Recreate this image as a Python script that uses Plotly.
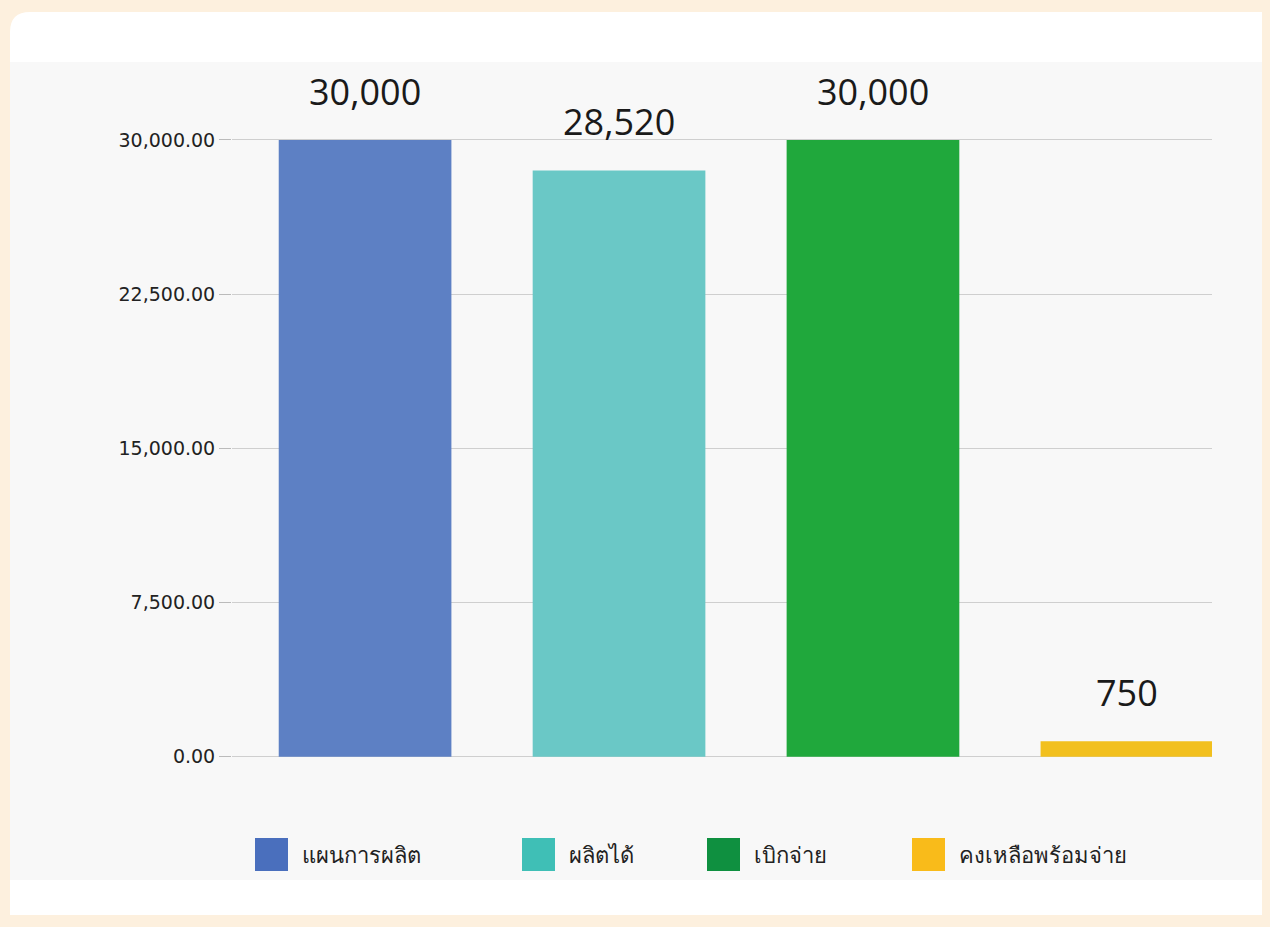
import plotly.graph_objects as go

categories = ["แผนการผลิต", "ผลิตได้", "เบิกจ่าย", "คงเหลือพร้อมจ่าย"]
values = [30000, 28520, 30000, 750]
value_labels = ["30,000", "28,520", "30,000", "750"]
bar_colors = ["#5d80c4", "#6ac8c6", "#20a83c", "#f2c01e"]
legend_colors = ["#4a6fbd", "#3fbfb6", "#0f9040", "#f9bb1a"]
tick_vals = [0, 7500, 15000, 22500, 30000]
tick_text = ["0.00", "7,500.00", "15,000.00", "22,500.00", "30,000.00"]

W, H = 1270, 927
fig = go.Figure()
for cat, val, col in zip(categories, values, bar_colors):
    fig.add_trace(go.Bar(
        x=[cat], y=[val], name=cat, marker=dict(color=col, line=dict(width=0)),
        width=0.68, showlegend=False,
    ))

annotations = []
for cat, val, lab in zip(categories, values, value_labels):
    annotations.append(dict(x=cat, y=val, xref="x", yref="y", text=lab, showarrow=False,
                            yanchor="bottom", yshift=22,
                            font=dict(size=36, color="#1a1a1a", family="Open Sans, sans-serif")))

shapes = [
    dict(type="path", xref="paper", yref="paper", layer="below",
         path=f"M {30/W},{1-12/H} L {1262/W},{1-12/H} L {1262/W},{1-915/H} L {10/W},{1-915/H} L {10/W},{1-32/H} Q {10/W},{1-12/H} {30/W},{1-12/H} Z",
         fillcolor="white", line=dict(width=0)),
    dict(type="rect", xref="paper", yref="paper", layer="below",
         x0=10 / W, x1=1262 / W, y0=1 - 880 / H, y1=1 - 62 / H,
         fillcolor="#f8f8f8", line=dict(width=0)),
]

# manual legend
legend_x = [255, 522, 707, 912]
for lx, cat, col in zip(legend_x, categories, legend_colors):
    shapes.append(dict(type="rect", xref="paper", yref="paper",
                       x0=lx / W, x1=(lx + 33) / W, y0=1 - 871 / H, y1=1 - 838 / H,
                       fillcolor=col, line=dict(width=0)))
    annotations.append(dict(x=(lx + 45) / W, y=1 - 854 / H, xref="paper", yref="paper",
                            xanchor="left", yanchor="middle", showarrow=False, text=cat,
                            font=dict(size=22, color="#222", family="Noto Sans, sans-serif")))

fig.update_layout(
    width=W, height=H,
    margin=dict(l=0, r=0, t=0, b=0),
    paper_bgcolor="#fdf0de",
    plot_bgcolor="rgba(0,0,0,0)",
    barmode="overlay",
    showlegend=False,
    xaxis=dict(domain=[232 / W, 1212 / W], range=[-0.524, 3.335], showticklabels=False,
               showgrid=False, zeroline=False, showline=False, automargin=False, fixedrange=True),
    yaxis=dict(domain=[1 - 767 / H, 1 - 68 / H], range=[-500, 33500],
               tickvals=tick_vals, ticktext=tick_text, showgrid=True, gridcolor="#cfcfcf",
               gridwidth=1, zeroline=False, showline=False, ticks="outside", ticklen=12,
               tickcolor="#bbbbbb", tickfont=dict(size=19, color="#222", family="DejaVu Sans, sans-serif"),
               automargin=False, fixedrange=True),
    shapes=shapes,
    annotations=annotations,
    font=dict(family="Noto Sans, sans-serif"),
)
fig.write_html("out.html", config={"displayModeBar": False},
               post_script="document.body.style.margin='0';document.body.style.background='#fdf0de';")
